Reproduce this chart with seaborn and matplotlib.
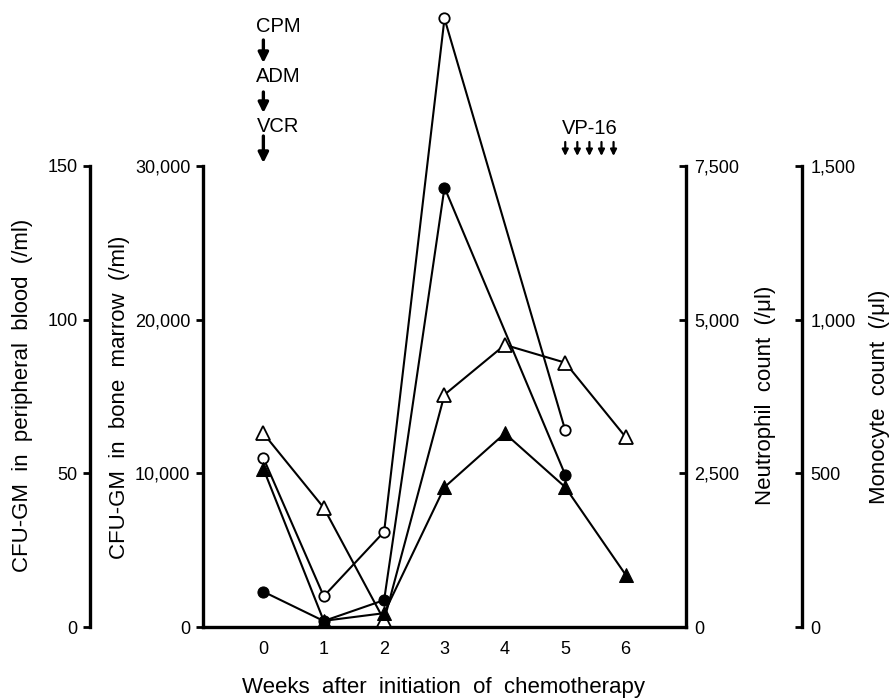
import matplotlib
matplotlib.use("Agg")
import matplotlib.pyplot as plt
import seaborn as sns

# Data
weeks = [0, 1, 2, 3, 4, 5, 6]
weeks_circ = [0, 1, 2, 3, 5]

cfu_pb = [55, 10, 31, 198, 64]              # open circles, CFU-GM in peripheral blood (/ml)
cfu_bm = [2300, 390, 1750, 28600, 9900]     # filled circles, CFU-GM in bone marrow (/ml)
neutro = [3150, 1940, 110, 3780, 4590, 4300, 3090]   # open triangles, neutrophils (/ul)
mono = [515, 20, 45, 455, 630, 455, 170]             # filled triangles, monocytes (/ul)

vp16_days = [5.0, 5.2, 5.4, 5.6, 5.8]
xticks = [0, 1, 2, 3, 4, 5, 6]

sns.set_style("white")
plt.rcParams['font.family'] = ['Liberation Sans', 'DejaVu Sans']
for k in ['axes.edgecolor', 'text.color', 'xtick.color', 'ytick.color', 'axes.labelcolor']:
    plt.rcParams[k] = 'black'

W, H = 892, 699
fig = plt.figure(figsize=(W / 100, H / 100), dpi=100)

# main axes: bone marrow scale on the left spine
x0, x1, ybot = 203, 686, 627
ax = fig.add_axes([x0 / W, (H - ybot) / H, (x1 - x0) / W, ybot / H])
scale = ybot / (ybot - 166)   # axes extends above the top tick

ax_pb = ax.twinx()
ax_ne = ax.twinx()
ax_mo = ax.twinx()

lw = 1.5
sns.lineplot(x=weeks_circ, y=cfu_bm, ax=ax, color='k', lw=lw, marker='o',
             markersize=8, markerfacecolor='k', markeredgecolor='k')
sns.lineplot(x=weeks_circ, y=cfu_pb, ax=ax_pb, color='k', lw=lw, marker='o',
             markersize=7.5, markerfacecolor='white', markeredgecolor='k', markeredgewidth=1.3)
sns.lineplot(x=weeks, y=neutro, ax=ax_ne, color='k', lw=lw, marker='^',
             markersize=10, markerfacecolor='white', markeredgecolor='k', markeredgewidth=1.3)
sns.lineplot(x=weeks, y=mono, ax=ax_mo, color='k', lw=lw, marker='^',
             markersize=10, markerfacecolor='k', markeredgecolor='k')

ax.set_xlim(-1, 7)
ax.set_xticks(xticks)
ax.tick_params(axis='x', length=0, labelsize=13, pad=10)

spine_w = 2.4
tick_kw = dict(labelsize=13, width=2, length=5)


def style_axis(a, top, side, pos, direction):
    a.set_ylim(0, top * scale)
    a.set_yticks([0, top / 3, 2 * top / 3, top])
    a.set_yticks([top], minor=True)
    a.yaxis.set_major_formatter(matplotlib.ticker.FuncFormatter(lambda v, p: f"{int(round(v)):,}"))
    for s in ['top', 'left', 'right', 'bottom']:
        a.spines[s].set_visible(False)
    sp = a.spines[side]
    sp.set_visible(True)
    sp.set_position(('axes', pos))
    sp.set_bounds(0, top)
    sp.set_linewidth(spine_w)
    a.yaxis.set_ticks_position(side)
    a.tick_params(axis='y', direction=direction, pad=4, **tick_kw)
    # top tick drawn on both sides, like a "T" cap
    other = 'in' if direction == 'out' else 'out'
    a.tick_params(axis='y', which='minor', direction=other, width=2, length=5)
    a.set_ylabel('')


style_axis(ax, 30000, 'left', 0.0, 'out')
ax.spines['bottom'].set_visible(True)
ax.spines['bottom'].set_linewidth(spine_w)
style_axis(ax_pb, 150, 'left', (90 - x0) / (x1 - x0), 'out')
style_axis(ax_ne, 7500, 'right', 1.0, 'in')
style_axis(ax_mo, 1500, 'right', (802 - x0) / (x1 - x0), 'in')
ax_ne.tick_params(axis='y', which='major', pad=6)
ax_mo.tick_params(axis='y', which='major', pad=6)
ax.set_xlabel('')


def fx(px):
    return px / W


def fy(py):
    return (H - py) / H


lab_kw = dict(rotation=90, ha='center', va='center', fontsize=16)
fig.text(fx(23), fy(395), 'CFU-GM  in  peripheral  blood  (/ml)', **lab_kw)
fig.text(fx(119), fy(397), 'CFU-GM  in  bone  marrow  (/ml)', **lab_kw)
fig.text(fx(766), fy(395), 'Neutrophil  count  (/\u03bcl)', **lab_kw)
fig.text(fx(879), fy(397), 'Monocyte  count  (/\u03bcl)', **lab_kw)
fig.text(fx(444), fy(688), 'Weeks  after  initiation  of  chemotherapy',
         ha='center', va='center', fontsize=16)

# drug schedule annotations
tr = ax.get_xaxis_transform()


def af(py):
    return (ybot - py) / ybot


for name, py in [('CPM', 26), ('ADM', 77), ('VCR', 127)]:
    ax.text(0.24, af(py), name, transform=tr, ha='center', va='center', fontsize=14.5, clip_on=False)
for ys, ye in [(40, 63), (92, 113), (136, 163)]:
    ax.annotate('', xy=(0, af(ye)), xytext=(0, af(ys)), xycoords=tr, textcoords=tr,
                arrowprops=dict(arrowstyle='-|>', lw=2.4, color='k', mutation_scale=15,
                                shrinkA=0, shrinkB=0))

ax.text(5.41, af(128), 'VP-16', transform=tr, ha='center', va='center', fontsize=14.5, clip_on=False)
for d in vp16_days:
    ax.annotate('', xy=(d, af(156)), xytext=(d, af(142)), xycoords=tr, textcoords=tr,
                arrowprops=dict(arrowstyle='-|>', lw=1.6, color='k', mutation_scale=9,
                                shrinkA=0, shrinkB=0))

fig.savefig('out.png', dpi=100)
